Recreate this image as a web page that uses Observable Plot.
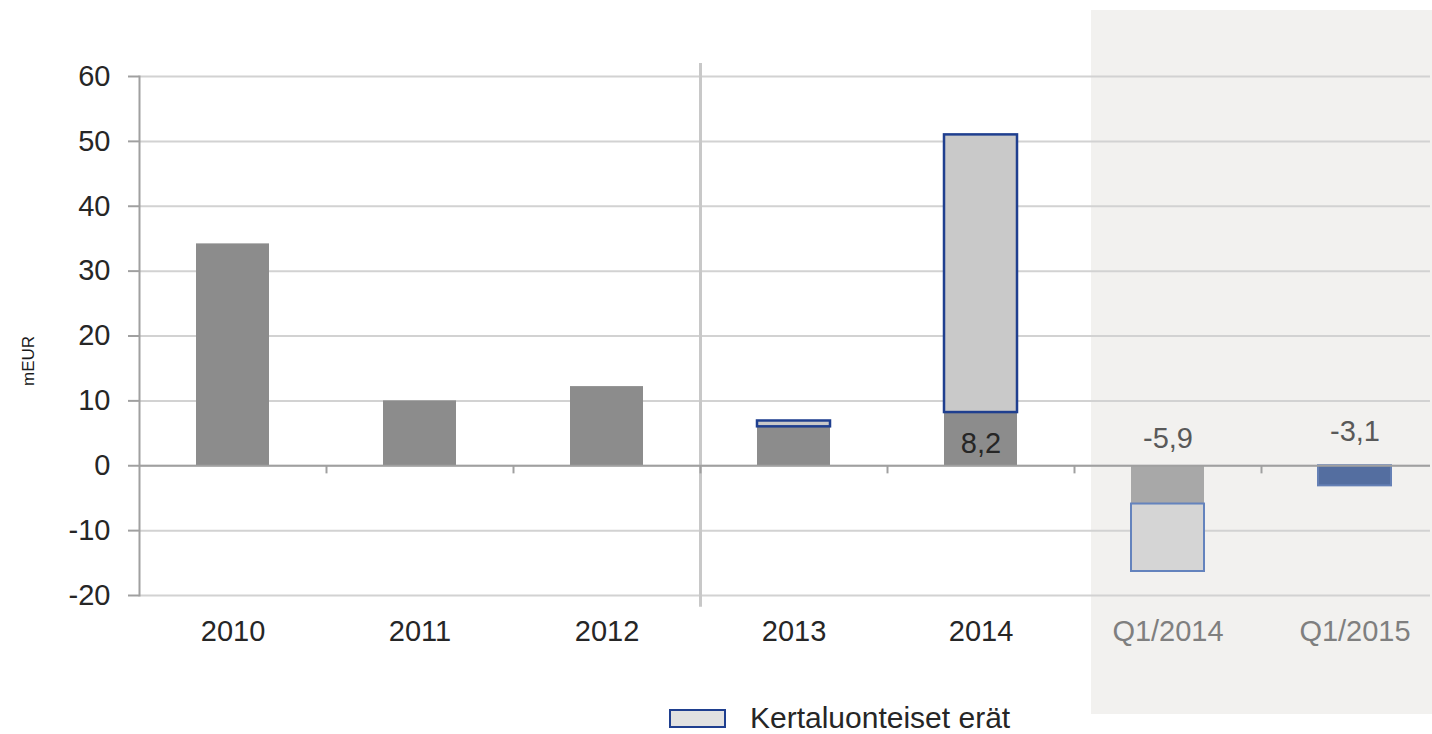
<!DOCTYPE html>
<html>
<head>
<meta charset="utf-8">
<script src="https://cdn.jsdelivr.net/npm/d3@7"></script>
<script src="https://cdn.jsdelivr.net/npm/@observablehq/plot@0.6"></script>
<style>
  html, body { margin: 0; padding: 0; background: #fff; }
  #wrap { position: relative; width: 1432px; height: 734px; overflow: hidden; font-family: "Liberation Sans", Arial, sans-serif; }
  #bg { position: absolute; left: 1091px; top: 10px; width: 341px; height: 704px; background: #f2f1ef; }
  #chart { position: absolute; left: 0; top: 0; }
  #ylab { position: absolute; left: 29px; top: 361px; transform: translate(-50%, -50%) rotate(-90deg); font-size: 17px; color: #1a1a1a; white-space: nowrap; }
  #legend { position: absolute; left: 669px; top: 703px; display: flex; align-items: center; font-size: 30px; line-height: 1; color: #262626; }
  #legend .sw { width: 53px; height: 15px; background: #e1e1e1; border: 2px solid #1f3f8f; margin-right: 24px; }
</style>
</head>
<body>
<div id="wrap">
  <div id="bg"></div>
  <div id="chart"></div>
  <div id="ylab">mEUR</div>
  <div id="legend"><div class="sw"></div><span>Kertaluonteiset erät</span></div>
</div>
<script>
// ---- data ----
const categories = ["2010", "2011", "2012", "2013", "2014", "Q1/2014", "Q1/2015"];
const comparable = [34.2, 10.0, 12.2, 6.0, 8.2, -5.9, -3.1];
const oneOff = [0, 0, 0, 0.9, 42.8, -10.4, 0];
const yTicks = [-20, -10, 0, 10, 20, 30, 40, 50, 60];
const yearTicks = ["2010", "2011", "2012", "2013", "2014"];
const quarterTicks = ["Q1/2014", "Q1/2015"];
const separatorBefore = ["2013"];

const rows = categories.map((c, i) => ({cat: c, base: comparable[i], extra: oneOff[i], top: comparable[i] + oneOff[i]}));

const fmt = v => v.toFixed(1).replace(".", ",");
const xRange = [139, 1448];
const padIn = 0.61, padOut = 0.305;
const step = (xRange[1] - xRange[0]) / (categories.length - padIn + 2 * padOut);

const baseFill = d => d.cat === "Q1/2015" ? "#546ea0" : d.cat.startsWith("Q1") ? "#a8a8a8" : "#8c8c8c";

const chart = Plot.plot({
  width: 1432,
  height: 734,
  marginLeft: 139,
  marginRight: 2,
  marginTop: 76,
  marginBottom: 139,
  style: {background: "transparent", fontFamily: "Liberation Sans, Arial, sans-serif"},
  x: {domain: categories, range: xRange, paddingInner: padIn, paddingOuter: padOut, axis: null},
  y: {domain: [-20, 60], axis: null},
  marks: [
    Plot.gridY(yTicks, {stroke: "#d2d2d2", strokeOpacity: 1, strokeWidth: 2}),
    // separator line between historic years and recent ones
    Plot.ruleX(separatorBefore, {x: d => d, dx: -step / 2, y1: -21.8, y2: 62, stroke: "#c8c8c8", strokeWidth: 3}),
    // comparable result bars
    Plot.barY(rows, {x: "cat", y1: 0, y2: "base", fill: baseFill,
      stroke: d => d.cat === "Q1/2015" ? "#6580b5" : "none", strokeWidth: 2}),
    // one-off items
    Plot.barY(rows.filter(d => d.extra !== 0 && !d.cat.startsWith("Q1")), {x: "cat", y1: "base", y2: "top",
      fill: "#c9c9c9", stroke: "#1f3f8f", strokeWidth: 2.5}),
    Plot.barY(rows.filter(d => d.extra !== 0 && d.cat.startsWith("Q1")), {x: "cat", y1: "base", y2: "top",
      fill: "#d5d5d5", stroke: "#6483bd", strokeWidth: 2}),
    // zero line and category boundary ticks
    Plot.ruleY([0], {stroke: "#a0a0a0", strokeWidth: 2}),
    Plot.ruleX(categories.slice(1), {x: d => d, dx: -step / 2, y1: 0, y2: -1.25, stroke: "#a0a0a0", strokeWidth: 2}),
    // y axis
    Plot.frame({anchor: "left", stroke: "#a0a0a0", strokeWidth: 2}),
    Plot.axisY({ticks: yTicks, tickSize: 11, tickPadding: 18, fontSize: 29, fill: "#262626", stroke: "#a0a0a0",
      strokeWidth: 2, tickFormat: d => String(d), label: null}),
    // x axis labels
    Plot.axisX({ticks: yearTicks, tickSize: 0, tickPadding: 25, fontSize: 29, fill: "#262626", label: null}),
    Plot.axisX({ticks: quarterTicks, tickSize: 0, tickPadding: 25, fontSize: 29, fill: "#7f7f7f", label: null}),
    // value labels
    Plot.text(rows.filter(d => d.cat === "2014"), {x: "cat", y: "base", text: d => fmt(d.base), dy: 31,
      fontSize: 29, fill: "#262626"}),
    Plot.text(rows.filter(d => d.cat === "Q1/2014"), {x: "cat", y: 0, text: d => fmt(d.base), dy: -27,
      fontSize: 29, fill: "#595959"}),
    Plot.text(rows.filter(d => d.cat === "Q1/2015"), {x: "cat", y: 0, text: d => fmt(d.base), dy: -34,
      fontSize: 29, fill: "#595959"})
  ]
});
document.getElementById("chart").appendChild(chart);
</script>
</body>
</html>
